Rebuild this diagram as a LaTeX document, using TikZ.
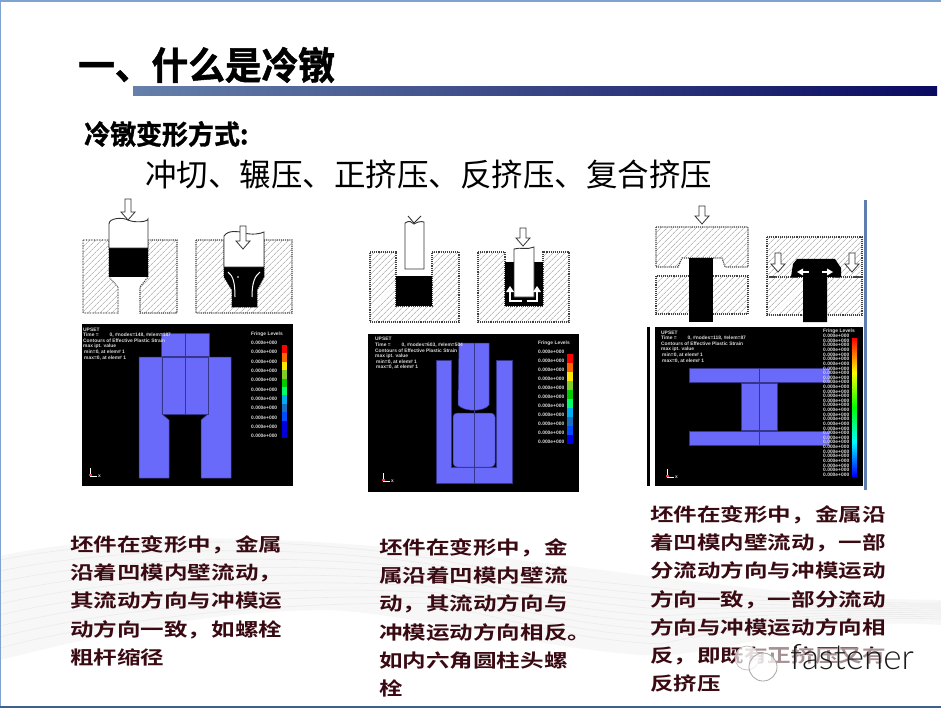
\documentclass[tikz,border=0pt]{standalone}
\usepackage{fontspec}
\usepackage{tikz}
\usetikzlibrary{patterns.meta,calc}
\setmainfont{Liberation Sans}
\newfontfamily\headcjk[FakeStretch=0.965,FakeBold=1.2]{Noto Sans CJK SC Bold}
\newfontfamily\linecjk[FakeStretch=1.0]{Noto Sans CJK SC}
\newfontfamily\bodycjk[FakeStretch=1.28]{Noto Sans CJK SC Bold}
\newfontfamily\markfont{Lato Light}
\definecolor{accent}{HTML}{6A6AFA}
\definecolor{femline}{HTML}{35358A}
\definecolor{bodytext}{HTML}{3A0A12}
\definecolor{frameblue}{HTML}{7FA3CF}
\definecolor{framedark}{HTML}{3F5F8F}
\definecolor{sidebar}{HTML}{5E7FAE}
\definecolor{barleft}{HTML}{6680AA}
\definecolor{barright}{HTML}{0A0A60}
\definecolor{swoosh}{HTML}{F7F7F7}
\pgfdeclareverticalshading{fringebar}{100bp}{color(0bp)=(blue); color(25bp)=(blue); color(37.5bp)=(cyan); color(50bp)=(green); color(62.5bp)=(yellow); color(75bp)=(red); color(100bp)=(red)}
\tikzset{
  diebody/.style={pattern={Lines[angle=45,distance=4pt,line width=0.6pt]},pattern color=gray!80,draw=black!75,densely dotted,line width=1.1pt},
  punchbody/.style={fill=white,draw=black!80,line width=0.9pt},
  femblue/.style={fill=accent,draw=femline,line width=0.5pt},
  femtext/.style={inner sep=0pt,anchor=west,text=white!85!black,font=\fontsize{4.9}{6}\selectfont\bfseries},
  bodynote/.style={inner sep=0pt,anchor=north west,align=left,text=bodytext,font=\fontsize{18.4}{28.2}\selectfont\bodycjk},
}
% 空心箭头：x, 上端 y, 下端 y
\newcommand{\hollowdown}[3]{
  \draw[fill=white,draw=black!80,line width=0.8pt] (#1-3,#2) -- (#1+3,#2) -- (#1+3,#3-8) -- (#1+7,#3-8)
    -- (#1,#3) -- (#1-7,#3-8) -- (#1-3,#3-8) -- cycle;
}
% 条纹 + 数值：前缀, 文字 x, 首行 y, 行距, 行数, 标题 y
\newcommand{\fringevalues}[6]{
  \node[femtext] (#1head) at (#2,#6) {Fringe Levels};
  \foreach \i in {1,...,#5}
    \node[femtext] (#1val\i) at (#2,{#3+(\i-1)*#4}) {0.000e+000};
}
% 左上角说明
\newcommand{\upsettext}[4]{
  \node[femtext] (#1a) at (#2,#3) {UPSET};
  \node[femtext] (#1b) at (#2,#3+5.7) {Time =\ \ \ \ \ \ \ \ 0, #4};
  \node[femtext] (#1c) at (#2,#3+11.4) {Contours of Effective Plastic Strain};
  \node[femtext] (#1d) at (#2,#3+17.1) {max ipt. value};
  \node[femtext] (#1e) at (#2+1,#3+22.8) {min=0, at elem\# 1};
  \node[femtext] (#1f) at (#2+1,#3+28.5) {max=0, at elem\# 1};
}
% 坐标轴
\newcommand{\triad}[3]{
  \draw[white,line width=0.7pt] (#2,#3-8) -- (#2,#3) -- (#2+7,#3);
  \fill[red!80] (#2-1,#3-2) rectangle (#2+2,#3);
  \node[femtext] (#1x) at (#2+8,#3) {x};
}
\begin{document}
\begin{tikzpicture}[x=1pt,y=-1pt]
  \useasboundingbox (0,0) rectangle (941,708);
  \fill[white] (0,0) rectangle (941,708);
  % 背景
  \fill[swoosh] (0,556) .. controls (120,530) and (300,530) .. (640,575) .. controls (760,590) and (860,600) .. (941,600)
    -- (941,625) .. controls (800,615) and (720,660) .. (640,655) .. controls (520,645) and (420,615) .. (330,610)
    .. controls (200,610) and (80,640) .. (0,660) -- cycle;
  \foreach \k in {0,...,8}
    \draw[black!8,line width=0.6pt] (0,{560+\k*11}) .. controls (120,{536+\k*10}) and (300,{536+\k*8}) .. (440,{560+\k*5.5}) .. controls (520,{575+\k*6}) and (580,{580+\k*7.5}) .. (660,{588+\k*7}) .. controls (760,{598+\k*3}) and (860,{604+\k*1.5}) .. (941,{603+\k*2});
  % 边框
  \fill[frameblue] (0,0) rectangle (941,2);
  \fill[frameblue] (0,0) rectangle (1.2,708);
  \fill[framedark] (0,706) rectangle (941,708);
  % 标题
  \shade[left color=barleft,right color=barright] (133,87) rectangle (937,96);
  \node[inner sep=0pt,anchor=west,font=\fontsize{38}{38}\selectfont\headcjk] (title) at (78,65) {一、什么是冷镦};
  \node[inner sep=0pt,anchor=west,font=\fontsize{26.9}{27}\selectfont\headcjk] (subtitle) at (84,134) {冷镦变形方式:};
  \node[inner sep=0pt,anchor=west,font=\fontsize{31.5}{32}\selectfont\linecjk] (methods) at (145,175) {冲切、辗压、正挤压、反挤压、复合挤压};

  % 第一组 草图
  \draw[diebody] (83,240) -- (109,240) -- (109,277) -- (118,287) -- (118,313) -- (83,313) -- cycle;
  \draw[diebody] (148,240) -- (148,277) -- (140,287) -- (140,313) -- (177,313) -- (177,240) -- cycle;
  \fill[black] (109,248) rectangle (148,277);
  \draw[punchbody] (109,248) -- (109,224) .. controls (109,218) and (122,217) .. (128,220) .. controls (134,223) and (148,222) .. (148,219) -- (148,248) -- cycle;
  \hollowdown{128}{199}{220}
  \draw[diebody] (196,240) -- (224,240) -- (224,277) -- (232,290) -- (232,307) -- (257,307) -- (257,290) -- (264,277) -- (264,240) -- (292,240) -- (292,313) -- (196,313) -- cycle;
  \fill[black] (224,267) -- (264,267) -- (264,277) -- (257,290) -- (257,307) -- (232,307) -- (232,290) -- (224,277) -- cycle;
  \draw[punchbody] (224,267) -- (224,236) .. controls (228,230) and (238,231) .. (244,233) .. controls (252,235) and (260,234) .. (264,232) -- (264,267) -- cycle;
  \draw[white,line width=1pt] (228,272) .. controls (233,276) and (235,282) .. (235,297);
  \draw[white,line width=1pt] (260,272) .. controls (255,276) and (252,282) .. (252,297);
  \fill[white] (238,277) circle (0.9);
  \hollowdown{243}{226}{249}

  % 第一组 云图
  \fill[black] (82,324) rectangle (293,486);
  \draw[femblue] (139,357) -- (162,357) -- (162,414) -- (169,420) -- (169,478) -- (139,478) -- cycle;
  \draw[femblue] (231,357) -- (208,357) -- (208,414) -- (201,420) -- (201,478) -- (231,478) -- cycle;
  \draw[femblue] (162,357) rectangle (208,414);
  \draw[femblue] (161,333) rectangle (209,356);
  \draw[femline,line width=0.5pt] (185,333) -- (185,414);
  \upsettext{pa}{83}{329.5}{\#nodes=148, \#elem=187}
  \fringevalues{pa}{251}{343}{9.3}{11}{334}
  \foreach \c [count=\i from 0] in {red,orange!80!red,yellow!90!orange,yellow!50!green,green!80!black,green!60!cyan,cyan,cyan!50!blue,blue!70!cyan,blue!90!black,blue!85!black}
    \fill[\c] (282,345+\i*8.4) rectangle (287,345+\i*8.4+8.5);
  \triad{pa}{90}{476}

  % 第二组 草图
  \draw[diebody] (370,252) -- (396,252) -- (396,306) -- (432,306) -- (432,252) -- (459,252) -- (459,322) -- (370,322) -- cycle;
  \fill[black] (396,276) rectangle (432,306);
  \draw[punchbody] (405,269) -- (405,223) .. controls (409,220) and (412,222) .. (414,224) .. controls (417,222) and (421,221) .. (424,222) -- (424,269) -- cycle;
  \draw[black!80,line width=0.9pt] (408,216) -- (414,223) -- (421,216);
  \draw[diebody] (478,252) -- (505,252) -- (505,306) -- (543,306) -- (543,252) -- (569,252) -- (569,322) -- (478,322) -- cycle;
  \fill[black] (505,262) rectangle (543,306);
  \draw[punchbody] (514,297) -- (514,249) .. controls (520,247) and (528,250) .. (534,247) -- (534,297) -- cycle;
  \hollowdown{523}{228}{246}
  \draw[white,line width=2.4pt] (522,301) -- (510,301) -- (510,291);
  \draw[white,line width=2.4pt] (527,301) -- (537,301) -- (537,291);
  \fill[white] (506,292) -- (514,292) -- (510,286) -- cycle;
  \fill[white] (533,292) -- (541,292) -- (537,286) -- cycle;

  % 第二组 云图
  \fill[black] (368,334) rectangle (579,492);
  \draw[femblue] (436,360) -- (451,360) -- (451,467) -- (496,467) -- (496,360) -- (512,360) -- (512,483) -- (436,483) -- cycle;
  \draw[femblue] (459,343) -- (489,343) -- (489,405) .. controls (484,412) and (464,412) .. (458,405) -- cycle;
  \draw[femblue,rounded corners=4pt] (453,413) rectangle (495,467);
  \draw[femline,line width=0.5pt] (474,343) -- (474,483);
  \upsettext{pb}{375}{339}{\#nodes=603, \#elem=504}
  \fringevalues{pb}{538}{352}{9}{11}{343.5}
  \foreach \c [count=\i from 0] in {red,orange!80!red,yellow!90!orange,yellow!50!green,green!80!black,green!60!cyan,cyan,cyan!50!blue,blue!70!cyan,blue!90!black}
    \fill[\c] (567,354+\i*9) rectangle (573,354+\i*9+9.1);
  \triad{pb}{383}{481}

  % 第三组 草图
  \draw[diebody] (656,227) -- (748,227) -- (748,267) -- (725,267) -- (722,258) -- (682,258) -- (678,267) -- (656,267) -- cycle;
  \draw[diebody] (656,276) rectangle (748,314);
  \fill[black] (689,258) rectangle (713,322);
  \hollowdown{702}{206}{224}
  \draw[diebody] (767,237) -- (862,237) -- (862,277) -- (767,277) -- cycle;
  \draw[diebody] (767,277) rectangle (862,315);
  \fill[black] (791,277) -- (793,264) -- (797,259) -- (835,259) -- (841,268) -- (841,277) -- (827,277) -- (827,322) -- (803,322) -- (803,277) -- cycle;
  \hollowdown{778}{253}{272}
  \hollowdown{852}{253}{272}
  \draw[white,line width=2pt] (802,272) -- (809,272);
  \fill[white] (797,272) -- (803,268.5) -- (803,275.5) -- cycle;
  \draw[white,line width=2pt] (822,272) -- (828,272);
  \fill[white] (833,272) -- (827,268.5) -- (827,275.5) -- cycle;

  % 第三组 云图
  \fill[black] (655,327) rectangle (863,486);
  \fill[black] (647,327) rectangle (649.5,486);
  \fill[sidebar] (864,200) rectangle (867,490);
  \draw[femblue] (689,368) rectangle (829,382);
  \draw[femblue] (741,383) rectangle (777,430);
  \draw[femblue] (689,431) rectangle (829,445);
  \draw[femline,line width=0.5pt] (759,368) -- (759,445);
  \upsettext{pc}{661}{332.5}{\#nodes=118, \#elem=87}
  \fringevalues{pc}{823}{336}{4.62}{31}{331.5}
  \shade[shading=fringebar] (852,338) rectangle (857,476);
  \triad{pc}{667}{477}

  % 说明文字
  \node[bodynote] (notea) at (70,535.5) {坯件在变形中，金属\\沿着凹模内壁流动，\\其流动方向与冲模运\\动方向一致，如螺栓\\粗杆缩径};
  \node[bodynote] (noteb) at (379,538.5) {坯件在变形中，金\\属沿着凹模内壁流\\动，其流动方向与\\冲模运动方向相反。\\如内六角圆柱头螺\\栓};
  \node[bodynote] (notec) at (650,505.5) {坯件在变形中，金属沿\\着凹模内壁流动，一部\\分流动方向与冲模运动\\方向一致，一部分流动\\方向与冲模运动方向相\\反，即既有正挤压又有\\反挤压};

  % 水印
  \fill[white,opacity=0.55] (745,648) rectangle (915,668);
  \draw[black!25,fill=white,fill opacity=0.7,line width=0.7pt] (747,658) circle (12);
  \draw[black!35,fill=white,fill opacity=0.7,line width=0.8pt] (763,667) circle (14);
  \node[inner sep=0pt,anchor=base west,text=black!90,font=\fontsize{35}{35}\selectfont\markfont] (mark) at (790,669) {fastener};
\end{tikzpicture}
\end{document}
